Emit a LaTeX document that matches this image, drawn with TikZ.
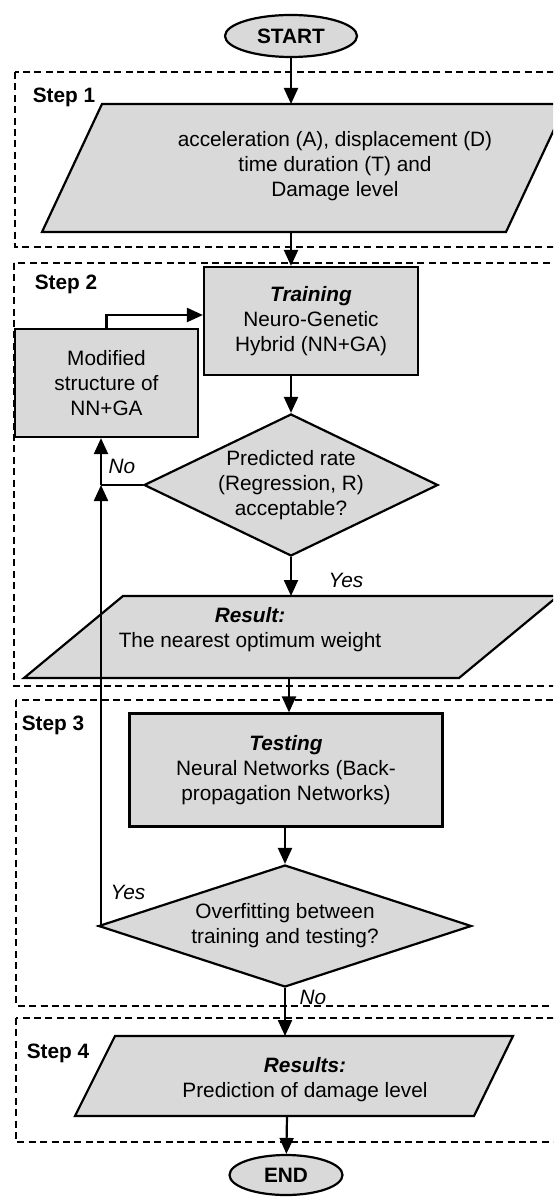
\documentclass[tikz,border=0pt]{standalone}
\usepackage{fontspec}
\setmainfont{Liberation Sans}
\usetikzlibrary{arrows.meta,shapes.geometric}
\definecolor{boxgray}{RGB}{217,217,217}

\begin{document}
\begin{tikzpicture}[x=0.5pt,y=-0.5pt,
  every node/.style={font=\fontsize{10.4pt}{12.5pt}\selectfont, align=center},
  flowbox/.style={draw, line width=1.1pt, fill=boxgray, rectangle, inner sep=0pt},
  terminal/.style={draw, line width=1.1pt, fill=boxgray, ellipse, inner sep=0pt, font=\fontsize{10.4pt}{12.5pt}\selectfont\bfseries},
  decision/.style={draw, line width=1.1pt, fill=boxgray, diamond, inner sep=0pt},
  iobox/.style={draw, line width=1.1pt, fill=boxgray},
  stepframe/.style={dash pattern=on 3.5pt off 2.2pt, line width=0.6pt},
  steplabel/.style={font=\fontsize{10.4pt}{12.5pt}\selectfont\bfseries},
  answer/.style={font=\fontsize{10.4pt}{12.5pt}\selectfont\itshape},
  flow/.style={line width=1.1pt, -{Triangle[length=8pt,width=7pt]}},
  link/.style={line width=1.1pt}]
\useasboundingbox (0,0) rectangle (553,1197);
\clip (0,0) rectangle (553,1197);

\draw[stepframe] (15,72) rectangle (560,247);
\draw[stepframe] (14,263) rectangle (560,686);
\draw[stepframe] (16,700) rectangle (560,1006);
\draw[stepframe] (16,1018) rectangle (560,1142);

\node[terminal, minimum width=66pt, minimum height=21pt] (start) at (291,36) {START};

\node[steplabel] (s1) at (64,97) {Step 1};
\filldraw[iobox] (42,232) -- (506,232) -- (566,104) -- (102,104) -- cycle;
\node (input) at (335,166) {acceleration (A), displacement (D)\\time duration (T) and\\Damage level};
\coordinate (inputtop) at (291,104);
\coordinate (inputbot) at (291,232);

\node[steplabel] (s2) at (66,284) {Step 2};
\node[flowbox, minimum width=107pt, minimum height=54pt] (train) at (311,321) {\textbf{\textit{Training}}\\Neuro-Genetic\\Hybrid (NN+GA)};
\node[flowbox, minimum width=91.5pt, minimum height=54pt] (modif) at (106.5,383) {Modified\\structure of\\NN+GA};
\node[decision, aspect=2.07, minimum width=147pt, minimum height=71pt] (pred) at (291,485) {Predicted rate\\(Regression, R)\\acceptable?};
\node[answer] (no1) at (122,466) {No};
\node[answer] (yes1) at (346,580) {Yes};
\filldraw[iobox] (24,678) -- (459,678) -- (558,596) -- (123,596) -- cycle;
\node (result) at (250,630) {\textbf{\textit{Result:}}\\The nearest optimum weight};
\coordinate (resulttop) at (291,596);
\coordinate (resultbot) at (289,678);
\coordinate (loop) at (101,485);

\node[steplabel] (s3) at (53,725) {Step 3};
\node[flowbox, minimum width=156.5pt, minimum height=56.5pt] (test) at (286,770) {\textbf{\textit{Testing}}\\Neural Networks (Back-\\propagation Networks)};
\node[decision, aspect=3, minimum width=186.5pt, minimum height=61pt] (over) at (285,926) {Overfitting between\\training and testing?};
\node[answer] (yes2) at (128,892) {Yes};
\node[answer] (no2) at (313,997) {No};

\node[steplabel] (s4) at (58,1053) {Step 4};
\filldraw[iobox] (75,1116) -- (474,1116) -- (513,1036) -- (115,1036) -- cycle;
\node (final) at (305,1080) {\textbf{\textit{Results:}}\\Prediction of damage level};
\coordinate (finaltop) at (289,1036);
\coordinate (finalbot) at (287,1116);
\node[terminal, minimum width=56.5pt, minimum height=20pt] (end) at (286,1175) {END};

\draw[flow] (start) -- (inputtop);
\draw[flow] (inputbot) -- (inputbot |- train.north);
\draw[flow] (modif.north) |- ([yshift=3pt]train.west);
\draw[flow] (train.south -| pred.north) -- (pred.north);
\draw[link] (pred.west) -- (loop);
\draw[flow] (loop) -- (loop |- modif.south);
\draw[flow] (pred.south) -- (resulttop);
\draw[flow] (resultbot) -- (resultbot |- test.north);
\draw[flow] (test.south -| over.north) -- (over.north);
\draw[flow] (over.west) -| (loop);
\draw[flow] (over.south) -- (over.south |- finaltop);
\draw[flow] (finalbot) -- (end);
\end{tikzpicture}
\end{document}
